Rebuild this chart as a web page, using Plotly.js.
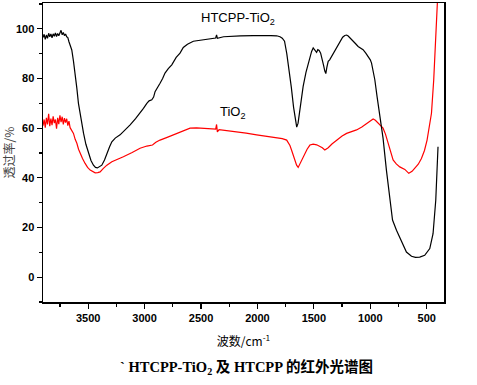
<!DOCTYPE html>
<html>
<head>
<meta charset="utf-8">
<script src="https://cdn.plot.ly/plotly-3.0.1.min.js"></script>
<style>html,body{margin:0;padding:0;background:#fff;}#chart{width:477px;height:385px;}</style>
</head>
<body>
<div id="chart"></div>
<script>
// HTCPP-TiO2 (black)
const wnHT = [3900,3890,3880,3870,3860,3850,3840,3830,3820,3810,3800,3790,3780,3770,3760,3750,3740,3730,3720,3710,3700,3690,3680,3670,3660,3645,3630,3615,3600,3586,3565,3541,3520,3497,3475,3453,3435,3418,3400,3379,3355,3334,3310,3290,3260,3217,3170,3128,3080,3040,3010,2980,2960,2936,2920,2907,2885,2863,2840,2819,2790,2759,2720,2686,2657,2620,2568,2520,2480,2420,2370,2362,2355,2300,2243,2150,2037,1950,1880,1830,1800,1780,1760,1740,1720,1700,1680,1665,1652,1640,1624,1595,1570,1550,1520,1506,1490,1476,1465,1453,1440,1432,1415,1403,1394,1385,1373,1360,1343,1314,1290,1270,1245,1226,1210,1196,1175,1152,1130,1108,1085,1064,1040,1019,1000,989,975,960,940,916,887,857,827,803,768,724,680,635,600,562,518,473,444,420,400];
const tHT = [96.5,97.8,95.8,97.5,96.2,98.2,96.8,97.9,96.4,98.0,97.0,98.3,96.9,98.1,97.2,98.6,99.4,97.6,98.5,97.3,97.9,96.8,96.5,94.8,93.5,91.5,87,82.2,76,70,64,58,53.5,49.9,47,45.1,44.2,44,44.4,45.1,47.2,49.9,52.5,54.5,56,57.3,59.3,61.3,63.8,66,68,70,71,71.4,72.5,74.7,76.2,78.1,80,82.2,84,85.5,88.5,90.2,92.5,93.8,95,95.3,95.4,95.9,96.3,97.6,96.2,96.8,97,97.2,97.3,97.4,97.3,97.2,96.8,96.2,95,90,84,76.5,68.5,63,60.4,62,67,76.8,82.5,86.2,90.9,92.3,91.5,90.5,91.6,91.3,90.2,88.9,85.5,83,82,84.5,86.9,87.5,88.9,90.9,93,95,96.6,97.3,97.5,97.1,96.2,95,94,92.9,92.2,91.6,90.2,88.9,87.5,86.2,83,79.5,72.7,64.6,56,43,31,23,18.9,14.8,10.1,8.4,8,8.1,8.8,11.5,17.5,31,52.5];
// TiO2 (red)
const wnTi = [3900,3890,3880,3870,3860,3850,3840,3830,3820,3810,3800,3790,3780,3770,3760,3750,3740,3730,3720,3710,3700,3690,3680,3670,3660,3650,3630,3615,3600,3585,3571,3550,3527,3505,3482,3460,3438,3415,3394,3365,3334,3290,3250,3188,3110,3040,2980,2955,2930,2900,2863,2800,2745,2686,2640,2597,2540,2480,2400,2370,2362,2355,2340,2260,2184,2100,2007,1920,1830,1780,1741,1725,1712,1698,1683,1667,1653,1639,1625,1609,1595,1580,1560,1535,1506,1475,1447,1425,1403,1388,1373,1340,1299,1250,1210,1160,1122,1075,1034,1000,975,955,931,910,887,865,842,812,798,770,739,694,659,630,606,575,547,520,497,478,458,438,427,414,400];
const tTi = [61,63.5,60.2,64.2,61.5,65.8,60.8,63.9,61.2,64.8,62,63.5,59.8,64.2,61.6,65.2,62.4,64.6,61.5,64,62.2,63.8,61,62.8,60.2,59.5,57.9,55.5,53.9,51.5,49.9,47.8,45.8,44.2,43.1,42.4,42,42.1,42.4,43.8,45.1,46.5,47.4,48.5,50.2,51.9,52.8,52.9,53.2,54.3,55.2,56.3,57.3,58.6,59.5,60,60.1,60,59.7,59.6,61.5,58.5,59.4,59,58.6,58,57.3,56.8,56.3,55.8,55.2,53.9,53,51.2,49.2,47,45.1,44.2,45.5,47.2,48.5,50.2,51.5,53.2,53.6,53.3,52.8,52.1,51.2,51.6,52.1,53.6,55.2,56.8,57.9,58.7,59.3,60.5,61.7,62.8,63.7,63.2,62,61,60,57.5,54,48.5,47.2,45.6,44.4,43.4,41.8,42.6,43.8,45.5,47.8,51,55.2,60,66,79.5,92.9,103.7,116];
const xTickVals = [3500,3000,2500,2000,1500,1000,500];
const yTickVals = [0,20,40,60,80,100];

const tickFont = {family: 'Liberation Sans, Arial, sans-serif', size: 11, color: '#000', weight: 'bold'};

const traces = [
  {x: wnTi, y: tTi, type: 'scatter', mode: 'lines', line: {color: '#ff0000', width: 1.2}, showlegend: false, cliponaxis: true},
  {x: wnHT, y: tHT, type: 'scatter', mode: 'lines', line: {color: '#000000', width: 1.2}, showlegend: false, cliponaxis: true}
];

const layout = {
  width: 477, height: 385,
  margin: {l: 43, r: 33, t: 3, b: 83},
  paper_bgcolor: '#fff', plot_bgcolor: '#fff',
  showlegend: false,
  xaxis: {
    range: [3900, 347], autorange: false,
    tickvals: xTickVals, ticks: 'outside', ticklen: 5, tickwidth: 1.2, tickcolor: '#000',
    minor: {dtick: 250, tick0: 0, ticks: 'outside', ticklen: 3, tickwidth: 1.2, tickcolor: '#000'},
    showline: true, linecolor: '#000', linewidth: 1.5, mirror: true,
    showgrid: false, zeroline: false,
    tickfont: tickFont,
    title: {text: '波数/cm<sup>-1</sup>', font: {family: 'Noto Sans CJK SC, Liberation Sans, sans-serif', size: 12, color: '#000'}, standoff: 15}
  },
  yaxis: {
    range: [-10, 110.4], autorange: false,
    tickvals: yTickVals, ticks: 'outside', ticklen: 5, tickwidth: 1.2, tickcolor: '#000',
    minor: {dtick: 10, tick0: 0, ticks: 'outside', ticklen: 3, tickwidth: 1.2, tickcolor: '#000'},
    showline: true, linecolor: '#000', linewidth: 1.5, mirror: true,
    showgrid: false, zeroline: false,
    tickfont: tickFont,
    title: {text: '透过率/%', font: {family: 'Noto Sans CJK SC, sans-serif', size: 12, color: '#444'}, standoff: 3}
  },
  annotations: [
    {x: 2172, y: 104.1, xref: 'x', yref: 'y', text: 'HTCPP-TiO<sub>2</sub>', showarrow: false,
     font: {family: 'Liberation Sans, Arial, sans-serif', size: 13, color: '#000'}},
    {x: 2217, y: 66.5, xref: 'x', yref: 'y', text: 'TiO<sub>2</sub>', showarrow: false,
     font: {family: 'Liberation Sans, Arial, sans-serif', size: 13, color: '#000'}},
    {x: 0.187, y: -0.218, xref: 'paper', yref: 'paper', xanchor: 'left', yanchor: 'middle',
     text: '` HTCPP-TiO<sub>2</sub> 及 HTCPP 的红外光谱图', showarrow: false,
     font: {family: 'Liberation Serif, Noto Sans CJK SC, serif', size: 14.5, color: '#000', weight: 'bold'}}
  ]
};

Plotly.newPlot('chart', traces, layout, {displayModeBar: false, staticPlot: true});
</script>
</body>
</html>
